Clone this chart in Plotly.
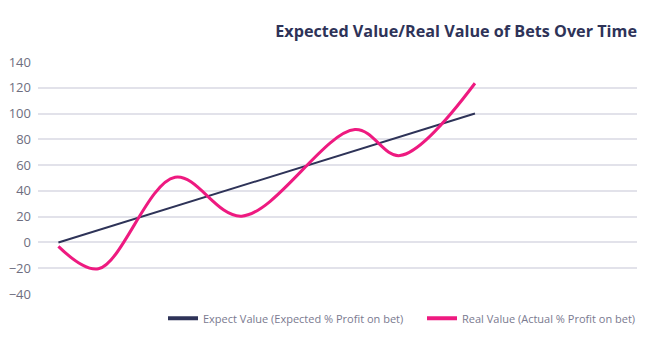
import plotly.graph_objects as go

expected_x = [0, 10]
expected_y = [0, 100]
real_x = [0, 0.96, 2.8, 4.4, 7.12, 8.2, 10]
real_y = [-3, -20.4, 50.6, 20.4, 87.6, 67.4, 123.5]
y_ticks = [-40, -20, 0, 20, 40, 60, 80, 100, 120, 140]

title = "Expected Value/Real Value of Bets Over Time"
name_exp = "Expect Value (Expected % Profit on bet)"
name_real = "Real Value (Actual % Profit on bet)"

NAVY = "#2e3358"
PINK = "#ee1a80"
FONT = "Open Sans"

fig = go.Figure()
fig.add_trace(go.Scatter(x=expected_x, y=expected_y, mode="lines", name=name_exp,
                         line=dict(color=NAVY, width=2), showlegend=False))
fig.add_trace(go.Scatter(x=real_x, y=real_y, mode="lines", name=name_real,
                         line=dict(color=PINK, width=3, shape="spline", smoothing=1),
                         showlegend=False))
# legend entries with thicker swatches
fig.add_trace(go.Scatter(x=[None], y=[None], mode="lines", name=name_exp,
                         line=dict(color=NAVY, width=4), legend="legend"))
fig.add_trace(go.Scatter(x=[None], y=[None], mode="lines", name=name_real,
                         line=dict(color=PINK, width=4), legend="legend2"))

leg_common = dict(orientation="h", xanchor="left", y=-0.105, yanchor="middle",
                  font=dict(size=11, color="#7a7a90"), bgcolor="rgba(0,0,0,0)")

fig.update_layout(
    width=654, height=340,
    margin=dict(l=38, r=17, t=62, b=46, autoexpand=False),
    paper_bgcolor="white", plot_bgcolor="white",
    font=dict(family=FONT, color="#6e6e85", size=12),
    title=dict(text=f"<b>{title}</b>", x=1, xref="paper", xanchor="right",
               y=1 - 31 / 340, yref="container", yanchor="middle",
               font=dict(family=FONT, size=16.2, color=NAVY)),
    xaxis=dict(range=[-0.49, 13.89], visible=False),
    yaxis=dict(range=[-40, 140], tickvals=y_ticks, showgrid=True,
               gridcolor="#e2e2ea", gridwidth=1.5, zeroline=False,
               showline=False, ticks="", ticklabelstandoff=6,
               tickfont=dict(size=13, color="#6e6e80")),
    legend=dict(x=(163 - 38) / 599, **leg_common),
    legend2=dict(x=(422 - 38) / 599, **leg_common),
    showlegend=True,
)

fig.write_html("out.html")
